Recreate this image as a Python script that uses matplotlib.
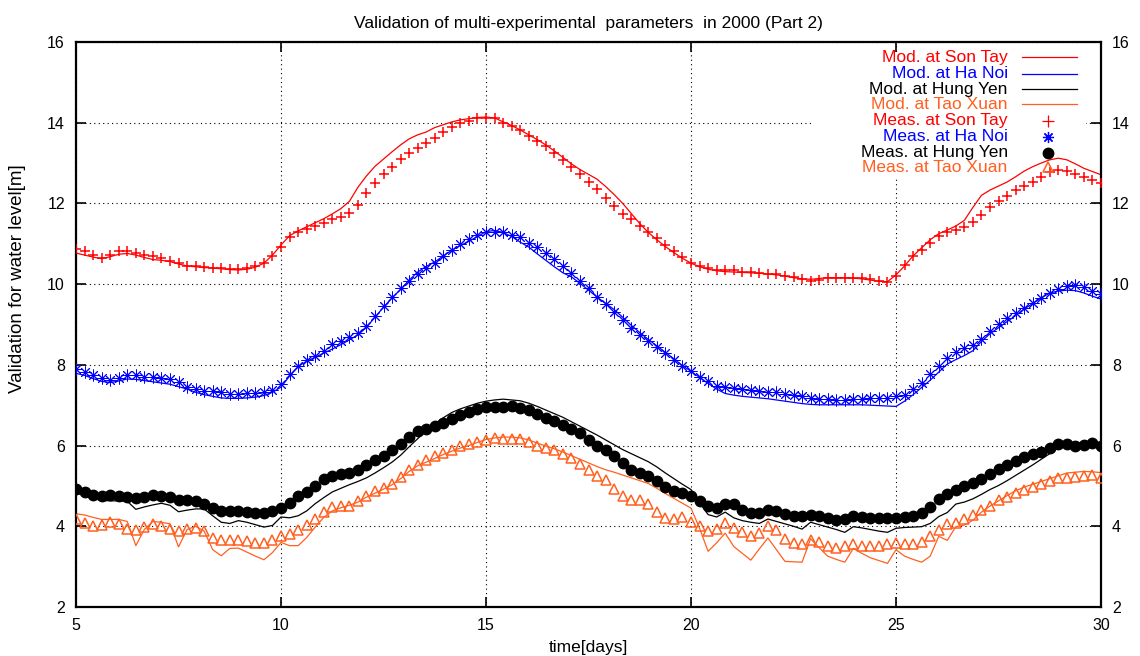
import numpy as np
import matplotlib
matplotlib.use("Agg")
import matplotlib.pyplot as plt
from matplotlib.patches import Rectangle

plt.rcParams['font.family'] = ['Liberation Sans', 'DejaVu Sans']

# sampling times (every 5 hours from day 5 to day 30)
days = np.linspace(5, 30, 121)

son_tay_mod = [
    10.77, 10.72, 10.67, 10.63, 10.68, 10.74, 10.76, 10.72, 10.66, 10.61,
    10.59, 10.56, 10.50, 10.45, 10.43, 10.41, 10.40, 10.38, 10.36, 10.35,
    10.37, 10.42, 10.52, 10.72, 10.97, 11.20, 11.32, 11.42, 11.52, 11.62,
    11.74, 11.87, 12.05, 12.40, 12.68, 12.92, 13.10, 13.28, 13.45, 13.60,
    13.70, 13.77, 13.88, 13.95, 14.02, 14.07, 14.10, 14.13, 14.14, 14.12,
    14.02, 13.93, 13.82, 13.70, 13.58, 13.45, 13.30, 13.14, 12.98, 12.84,
    12.72, 12.60, 12.42, 12.22, 12.00, 11.75, 11.50, 11.28, 11.10, 10.93,
    10.78, 10.64, 10.52, 10.43, 10.37, 10.33, 10.31, 10.30, 10.29, 10.28,
    10.27, 10.25, 10.23, 10.20, 10.16, 10.13, 10.12, 10.14, 10.16, 10.16,
    10.16, 10.15, 10.13, 10.10, 10.07, 10.06, 10.23, 10.45, 10.70, 10.90,
    11.10, 11.25, 11.34, 11.44, 11.58, 11.90, 12.20, 12.33, 12.43, 12.53,
    12.66, 12.80, 12.91, 13.00, 13.08, 13.12, 13.08, 12.98, 12.87, 12.79,
    12.71]

ha_noi_mod = [
    7.79, 7.74, 7.66, 7.59, 7.56, 7.60, 7.65, 7.64, 7.61, 7.58,
    7.55, 7.52, 7.46, 7.40, 7.32, 7.26, 7.22, 7.18, 7.17, 7.17,
    7.18, 7.20, 7.24, 7.32, 7.45, 7.72, 7.96, 8.09, 8.19, 8.29,
    8.39, 8.50, 8.62, 8.74, 8.93, 9.18, 9.43, 9.66, 9.87, 10.10,
    10.30, 10.44, 10.55, 10.70, 10.84, 10.96, 11.06, 11.18, 11.30, 11.33,
    11.28, 11.18, 11.04, 10.92, 10.75, 10.59, 10.43, 10.28, 10.18, 10.02,
    9.85, 9.68, 9.52, 9.37, 9.18, 8.98, 8.80, 8.63, 8.47, 8.31,
    8.15, 7.98, 7.84, 7.69, 7.54, 7.40, 7.29, 7.25, 7.22, 7.20,
    7.18, 7.16, 7.13, 7.10, 7.07, 7.04, 7.02, 7.01, 7.01, 7.01,
    7.01, 7.01, 7.01, 7.00, 6.99, 6.98, 6.97, 7.10, 7.26, 7.44,
    7.62, 7.82, 8.02, 8.13, 8.23, 8.35, 8.58, 8.77, 8.92, 9.07,
    9.22, 9.38, 9.52, 9.66, 9.78, 9.83, 9.85, 9.84, 9.78, 9.70,
    9.63]

hung_yen_mod = [
    4.83, 4.76, 4.69, 4.64, 4.63, 4.63, 4.62, 4.42, 4.48, 4.53,
    4.57, 4.52, 4.36, 4.40, 4.43, 4.43, 4.26, 4.10, 4.07, 4.14,
    4.10, 4.04, 3.98, 4.02, 4.23, 4.21, 4.26, 4.38, 4.56, 4.71,
    4.85, 4.94, 5.03, 5.11, 5.20, 5.32, 5.45, 5.59, 5.76, 5.97,
    6.17, 6.37, 6.54, 6.69, 6.82, 6.91, 6.98, 7.05, 7.10, 7.13,
    7.15, 7.13, 7.11, 7.05, 6.97, 6.88, 6.79, 6.70, 6.59, 6.48,
    6.37, 6.26, 6.14, 6.02, 5.90, 5.80, 5.70, 5.60, 5.47, 5.32,
    5.18, 5.04, 4.91, 4.58, 4.29, 4.23, 4.35, 4.21, 4.14, 4.10,
    4.07, 4.18, 4.12, 4.06, 4.00, 3.93, 4.10, 4.04, 3.98, 3.92,
    3.85, 3.99, 3.96, 3.92, 3.88, 3.85, 3.95, 3.97, 3.98, 3.99,
    4.07, 4.24, 4.34, 4.55, 4.60, 4.68, 4.79, 4.91, 5.01, 5.13,
    5.26, 5.39, 5.52, 5.66, 5.80, 5.95, 6.06, 6.06, 6.06, 6.03,
    5.99]

tao_xuan_mod = [
    4.31, 4.28, 4.22, 4.17, 4.17, 4.17, 4.12, 3.52, 3.92, 4.12,
    4.10, 4.06, 3.49, 3.92, 4.00, 3.88, 3.42, 3.27, 3.45, 3.46,
    3.36, 3.26, 3.17, 3.35, 3.60, 3.52, 3.52, 3.72, 3.98, 4.22,
    4.38, 4.46, 4.52, 4.60, 4.72, 4.82, 4.92, 5.03, 5.18, 5.36,
    5.50, 5.59, 5.68, 5.78, 5.86, 5.94, 6.00, 6.08, 6.15, 6.19,
    6.21, 6.21, 6.19, 6.14, 6.06, 5.99, 5.92, 5.84, 5.75, 5.66,
    5.57, 5.48, 5.40, 5.34, 5.27, 5.20, 5.13, 5.06, 4.94, 4.81,
    4.69, 4.57, 4.45, 3.95, 3.38, 3.59, 3.83, 3.50, 3.33, 3.16,
    3.44, 3.71, 3.42, 3.13, 3.12, 3.11, 3.69, 3.47, 3.26, 3.18,
    3.11, 3.45, 3.33, 3.22, 3.15, 3.08, 3.42, 3.26, 3.18, 3.11,
    3.26, 3.75, 3.65, 3.99, 4.03, 4.15, 4.35, 4.50, 4.63, 4.76,
    4.88, 4.97, 5.04, 5.11, 5.18, 5.25, 5.32, 5.34, 5.36, 5.35,
    5.33]

son_tay_meas = [
    10.87, 10.81, 10.73, 10.64, 10.73, 10.81, 10.83, 10.78, 10.73, 10.70,
    10.64, 10.58, 10.52, 10.46, 10.44, 10.42, 10.41, 10.40, 10.37, 10.37,
    10.40, 10.44, 10.52, 10.70, 10.93, 11.18, 11.30, 11.36, 11.44, 11.52,
    11.61, 11.67, 11.77, 11.96, 12.25, 12.51, 12.72, 12.91, 13.09, 13.24,
    13.37, 13.49, 13.61, 13.78, 13.89, 13.99, 14.05, 14.11, 14.11, 14.11,
    13.99, 13.92, 13.82, 13.67, 13.55, 13.43, 13.25, 13.08, 12.91, 12.73,
    12.54, 12.35, 12.13, 11.94, 11.74, 11.61, 11.44, 11.28, 11.14, 10.97,
    10.81, 10.67, 10.53, 10.44, 10.40, 10.34, 10.34, 10.34, 10.31, 10.29,
    10.27, 10.26, 10.24, 10.21, 10.17, 10.12, 10.09, 10.10, 10.15, 10.16,
    10.16, 10.16, 10.16, 10.12, 10.09, 10.06, 10.21, 10.48, 10.70, 10.85,
    11.03, 11.20, 11.30, 11.34, 11.41, 11.55, 11.72, 11.92, 12.07, 12.19,
    12.33, 12.43, 12.54, 12.65, 12.79, 12.83, 12.81, 12.73, 12.65, 12.58,
    12.51]

ha_noi_meas = [
    7.89, 7.83, 7.75, 7.67, 7.63, 7.67, 7.74, 7.75, 7.71, 7.69,
    7.67, 7.65, 7.57, 7.46, 7.40, 7.36, 7.34, 7.32, 7.28, 7.28,
    7.30, 7.30, 7.32, 7.38, 7.53, 7.78, 7.98, 8.12, 8.22, 8.35,
    8.52, 8.60, 8.68, 8.78, 8.97, 9.20, 9.46, 9.67, 9.90, 10.08,
    10.25, 10.39, 10.53, 10.70, 10.85, 10.99, 11.11, 11.22, 11.28, 11.30,
    11.28, 11.22, 11.16, 11.03, 10.93, 10.78, 10.62, 10.45, 10.27, 10.09,
    9.90, 9.69, 9.51, 9.32, 9.12, 8.91, 8.75, 8.60, 8.44, 8.29,
    8.13, 7.96, 7.84, 7.71, 7.59, 7.48, 7.45, 7.43, 7.40, 7.38,
    7.36, 7.33, 7.32, 7.28, 7.26, 7.22, 7.19, 7.16, 7.15, 7.14,
    7.14, 7.15, 7.16, 7.19, 7.19, 7.19, 7.22, 7.26, 7.40, 7.56,
    7.78, 7.98, 8.17, 8.31, 8.42, 8.50, 8.64, 8.83, 9.02, 9.16,
    9.28, 9.41, 9.54, 9.65, 9.78, 9.88, 9.96, 9.98, 9.92, 9.84,
    9.76]

hung_yen_meas = [
    4.92, 4.85, 4.78, 4.76, 4.77, 4.76, 4.72, 4.70, 4.73, 4.77,
    4.76, 4.72, 4.66, 4.64, 4.62, 4.55, 4.45, 4.39, 4.37, 4.37,
    4.35, 4.33, 4.33, 4.39, 4.46, 4.57, 4.74, 4.84, 4.99, 5.17,
    5.25, 5.30, 5.32, 5.40, 5.53, 5.65, 5.75, 5.88, 6.04, 6.20,
    6.35, 6.41, 6.49, 6.57, 6.66, 6.76, 6.83, 6.90, 6.95, 6.95,
    6.95, 6.98, 6.93, 6.87, 6.79, 6.68, 6.62, 6.52, 6.41, 6.31,
    6.13, 6.00, 5.90, 5.73, 5.57, 5.40, 5.32, 5.25, 5.11, 4.97,
    4.87, 4.83, 4.74, 4.62, 4.51, 4.45, 4.56, 4.54, 4.41, 4.33,
    4.33, 4.41, 4.37, 4.31, 4.26, 4.25, 4.29, 4.26, 4.21, 4.15,
    4.18, 4.25, 4.23, 4.21, 4.21, 4.21, 4.21, 4.22, 4.26, 4.33,
    4.49, 4.67, 4.80, 4.91, 5.00, 5.07, 5.18, 5.30, 5.42, 5.52,
    5.62, 5.71, 5.79, 5.85, 5.93, 6.03, 6.04, 6.00, 6.02, 6.06,
    6.00]

tao_xuan_meas = [
    4.17, 4.08, 4.00, 4.02, 4.10, 4.06, 3.93, 3.92, 3.98, 4.06,
    4.00, 3.93, 3.89, 3.93, 3.96, 3.88, 3.71, 3.65, 3.65, 3.65,
    3.63, 3.59, 3.59, 3.65, 3.76, 3.80, 3.90, 4.02, 4.18, 4.35,
    4.47, 4.51, 4.51, 4.62, 4.74, 4.87, 4.95, 5.06, 5.21, 5.40,
    5.53, 5.65, 5.73, 5.82, 5.90, 5.98, 6.04, 6.10, 6.15, 6.19,
    6.16, 6.17, 6.16, 6.08, 6.00, 5.94, 5.88, 5.80, 5.69, 5.54,
    5.40, 5.25, 5.14, 4.92, 4.74, 4.64, 4.66, 4.54, 4.35, 4.21,
    4.17, 4.22, 4.10, 4.00, 3.88, 3.93, 4.08, 3.96, 3.85, 3.77,
    3.83, 4.00, 3.90, 3.69, 3.59, 3.57, 3.65, 3.61, 3.50, 3.46,
    3.50, 3.57, 3.52, 3.50, 3.50, 3.55, 3.59, 3.56, 3.55, 3.60,
    3.75, 3.90, 4.06, 4.08, 4.18, 4.29, 4.41, 4.51, 4.66, 4.72,
    4.82, 4.91, 4.97, 5.05, 5.13, 5.19, 5.19, 5.22, 5.25, 5.28,
    5.19]

x_ticks = [5, 10, 15, 20, 25, 30]
y_ticks = [2, 4, 6, 8, 10, 12, 14, 16]

RED = '#ff0000'
BLUE = '#0000ff'
BLACK = '#000000'
ORANGE = '#ff6020'

fig = plt.figure(figsize=(11.4, 6.56), dpi=100)
ax = fig.add_axes([0.0667, 0.0747, 0.8991, 0.8613])
ax.set_axisbelow(True)

lw = 0.9
ax.plot(days, son_tay_mod, color=RED, lw=lw, zorder=2)
ax.plot(days, ha_noi_mod, color=BLUE, lw=lw, zorder=2)
ax.plot(days, hung_yen_mod, color=BLACK, lw=lw, zorder=2)
ax.plot(days, tao_xuan_mod, color=ORANGE, lw=lw, zorder=2)

ax.plot(days, son_tay_meas, ls='none', marker='+', ms=7, mew=1.1, color=RED, zorder=3)
ax.plot(days, ha_noi_meas, ls='none', marker=(8, 2, 0), ms=8.5, mew=0.7, color=BLUE, zorder=3)
ax.plot(days, hung_yen_meas, ls='none', marker='o', ms=7.5, color=BLACK, zorder=3)
ax.plot(days, tao_xuan_meas, ls='none', marker='^', ms=7, mew=1.1, mfc='none', mec=ORANGE, zorder=3)

ax.set_xlim(5, 30)
ax.set_ylim(2, 16)
ax.set_xticks(x_ticks)
ax.set_yticks(y_ticks)
ax.grid(True, color='black', ls=(0, (1, 3)), lw=0.8)
ax.tick_params(direction='in', length=7.5, width=1.2, top=True, right=True,
               labelright=True, labelsize=11.5, pad=8)
for s in ax.spines.values():
    s.set_linewidth(1.6)

# white backing for the key (hides the grid under it)
ax.add_patch(Rectangle((0.717, 0.761), 0.268, 0.22, transform=ax.transAxes,
                       facecolor='white', edgecolor='none', zorder=1))

legend_rows = [
    ("Mod. at Son Tay", RED, 'line', None),
    ("Mod. at Ha Noi", BLUE, 'line', None),
    ("Mod. at Hung Yen", BLACK, 'line', None),
    ("Mod. at Tao Xuan", ORANGE, 'line', None),
    ("Meas. at Son Tay", RED, 'mark', '+'),
    ("Meas. at Ha Noi", BLUE, 'mark', (8, 2, 0)),
    ("Meas. at Hung Yen", BLACK, 'mark', 'o'),
    ("Meas. at Tao Xuan", ORANGE, 'mark', '^'),
]
row_y = [0.973, 0.944, 0.916, 0.890, 0.861, 0.832, 0.804, 0.778]
for (lab, col, kind, mk), yy in zip(legend_rows, row_y):
    ax.text(0.909, yy, lab, color=col, ha='right', va='center', fontsize=12.5,
            transform=ax.transAxes, zorder=4)
    if kind == 'line':
        ax.plot([0.923, 0.977], [yy, yy], color=col, lw=lw, transform=ax.transAxes, zorder=4)
    else:
        if mk == '^':
            ax.plot([0.948], [yy], marker=mk, ms=7, mew=1.1, mfc='none', mec=col,
                    transform=ax.transAxes, zorder=4)
        elif mk == 'o':
            ax.plot([0.948], [yy], marker=mk, ms=7.5, color=col,
                    transform=ax.transAxes, zorder=4)
        else:
            ax.plot([0.948], [yy], marker=mk, ms=8, mew=0.9, color=col,
                    transform=ax.transAxes, zorder=4)

ax.set_title("Validation of multi-experimental  parameters  in 2000 (Part 2)",
             fontsize=12.5, pad=10)
ax.set_xlabel("time[days]", fontsize=12.5, labelpad=5)
ax.set_ylabel("Validation for water level[m]", fontsize=13.5)
ax.yaxis.set_label_coords(-0.049, 0.582)

fig.savefig("out.png", dpi=100)
